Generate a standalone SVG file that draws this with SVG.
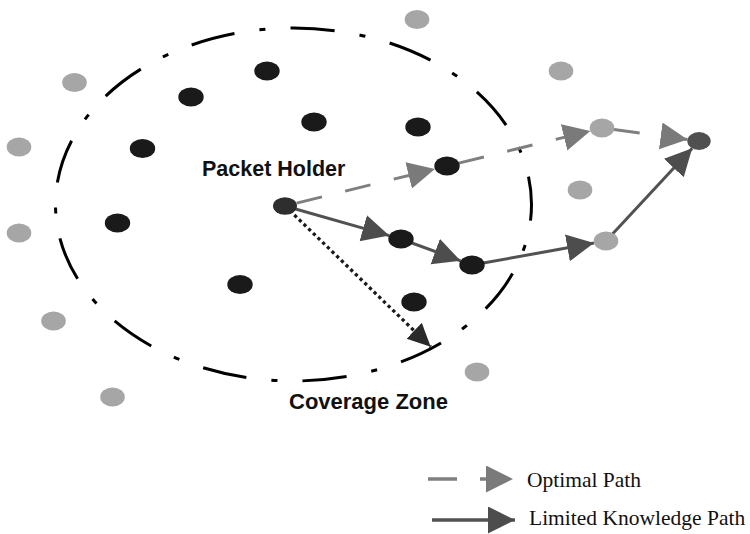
<svg xmlns="http://www.w3.org/2000/svg" width="750" height="534" viewBox="0 0 750 534">
<style>
.blk{fill:#1a1a1a}
.gry{fill:#a6a6a6}
.opt{fill:none;stroke:#7f7f7f;stroke-width:3;stroke-dasharray:26 24;stroke-dashoffset:38}
.lim{fill:none;stroke:#525252;stroke-width:3}
.dot{fill:none;stroke:#1a1a1a;stroke-width:3.3;stroke-dasharray:3.3 3.2}
.lbl{font-family:"Liberation Sans",Arial,Helvetica,sans-serif;font-weight:bold;fill:#111}
.leg{font-family:"Liberation Serif","Times New Roman",serif;font-size:21.5px;fill:#111}
</style>
<defs>
<marker id="aOpt" markerUnits="userSpaceOnUse" markerWidth="28" markerHeight="28" refX="27" refY="13.5" orient="auto"><path d="M0,0 L27,13.5 L0,27 z" fill="#7a7a7a"/></marker>
<marker id="aLim" markerUnits="userSpaceOnUse" markerWidth="28" markerHeight="28" refX="27" refY="13.5" orient="auto"><path d="M0,0 L27,13.5 L0,27 z" fill="#4d4d4d"/></marker>
<marker id="aDot" markerUnits="userSpaceOnUse" markerWidth="24" markerHeight="24" refX="23" refY="11" orient="auto"><path d="M0,0 L23,11 L0,22 z" fill="#2a2a2a"/></marker>
</defs>
<rect width="750" height="534" fill="#fff"/>
<g id="coverage-zone">
<ellipse cx="293.5" cy="204.5" rx="238" ry="176.5" fill="none" stroke="#000" stroke-width="3" pathLength="1300" stroke-dasharray="44 25 6 25" stroke-dashoffset="28"/>
<text class="lbl" x="289" y="409" font-size="22">Coverage Zone</text>
</g>
<g id="connectors">
<line class="opt" x1="285" y1="206" x2="434.9" y2="169" marker-end="url(#aOpt)"/>
<line class="opt" x1="447" y1="166" x2="590.3" y2="130.9" marker-end="url(#aOpt)"/>
<line class="opt" x1="602" y1="128" x2="687.5" y2="139.5" marker-end="url(#aOpt)"/>
<line class="lim" x1="285" y1="206" x2="389.2" y2="235.6" marker-end="url(#aLim)"/>
<line class="lim" x1="401" y1="239" x2="460.6" y2="260.8" marker-end="url(#aLim)"/>
<line class="lim" x1="472" y1="265" x2="594" y2="243.1" marker-end="url(#aLim)"/>
<line class="lim" x1="606" y1="241" x2="692.2" y2="148.3" marker-end="url(#aLim)"/>
<line class="dot" x1="285" y1="206" x2="430.7" y2="346.7" marker-end="url(#aDot)"/>
</g>
<g id="packet-holder"><ellipse cx="285" cy="206" rx="12" ry="8.7" fill="#2e2e2e"/><text class="lbl" x="202" y="176" font-size="21.5">Packet Holder</text></g>
<g id="target"><ellipse cx="699" cy="141" rx="11.7" ry="9" fill="#505050"/></g>
<g id="b1"><ellipse class="blk" cx="267" cy="71" rx="12.7" ry="9.5"/></g>
<g id="b2"><ellipse class="blk" cx="191" cy="97" rx="12.7" ry="9.5"/></g>
<g id="b3"><ellipse class="blk" cx="314" cy="122" rx="12.7" ry="9.5"/></g>
<g id="b4"><ellipse class="blk" cx="418" cy="127" rx="12.7" ry="9.5"/></g>
<g id="b5"><ellipse class="blk" cx="142.5" cy="148.5" rx="12.7" ry="9.5"/></g>
<g id="b6"><ellipse class="blk" cx="447" cy="166" rx="12.7" ry="9.5"/></g>
<g id="b7"><ellipse class="blk" cx="117.5" cy="223" rx="12.7" ry="9.5"/></g>
<g id="b8"><ellipse class="blk" cx="401" cy="239" rx="12.7" ry="9.5"/></g>
<g id="b9"><ellipse class="blk" cx="472" cy="265" rx="12.7" ry="9.5"/></g>
<g id="b10"><ellipse class="blk" cx="240" cy="284.5" rx="12.7" ry="9.5"/></g>
<g id="b11"><ellipse class="blk" cx="414" cy="302" rx="12.7" ry="9.5"/></g>
<g id="g1"><ellipse class="gry" cx="417" cy="19.5" rx="12.3" ry="9.5"/></g>
<g id="g2"><ellipse class="gry" cx="561" cy="71" rx="12.3" ry="9.5"/></g>
<g id="g3"><ellipse class="gry" cx="74.5" cy="82.5" rx="12.3" ry="9.5"/></g>
<g id="g4"><ellipse class="gry" cx="19" cy="147" rx="12.3" ry="9.5"/></g>
<g id="g5"><ellipse class="gry" cx="602" cy="128" rx="12.3" ry="9.5"/></g>
<g id="g6"><ellipse class="gry" cx="580" cy="190" rx="12.3" ry="9.5"/></g>
<g id="g7"><ellipse class="gry" cx="19" cy="233" rx="12.3" ry="9.5"/></g>
<g id="g8"><ellipse class="gry" cx="606" cy="241" rx="12.3" ry="9.5"/></g>
<g id="g9"><ellipse class="gry" cx="53.5" cy="321" rx="12.3" ry="9.5"/></g>
<g id="g10"><ellipse class="gry" cx="477" cy="372" rx="12.3" ry="9.5"/></g>
<g id="g11"><ellipse class="gry" cx="112.5" cy="397" rx="12.3" ry="9.5"/></g>
<g id="legend">
<line x1="428" y1="479" x2="513" y2="479" stroke="#7f7f7f" stroke-width="3.3" stroke-dasharray="29 23" marker-end="url(#aOpt)"/>
<text class="leg" x="527" y="487">Optimal Path</text>
<line x1="432" y1="520" x2="515" y2="520" stroke="#525252" stroke-width="3.3" marker-end="url(#aLim)"/>
<text class="leg" x="529" y="525">Limited Knowledge Path</text>
</g>
</svg>
